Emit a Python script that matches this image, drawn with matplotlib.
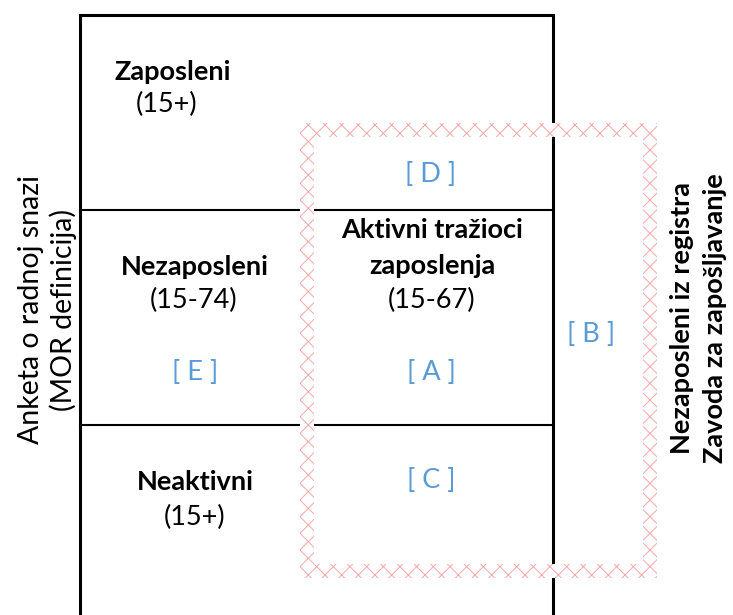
import matplotlib.pyplot as plt
from matplotlib.path import Path
from matplotlib.patches import PathPatch

plt.rcParams['font.family'] = ['Lato', 'DejaVu Sans']

# layout of the diagram (pixel space, y grows downward)
box_x = [80, 553]
row_y = [15, 210, 425, 615]
reg_outer = [300, 123, 657, 578]   # x0, y0, x1, y1 of the register frame
reg_width = 14

# cell texts
cell_titles = [("Zaposleni", 173, 72), ("Nezaposleni", 195, 267),
               ("Neaktivni", 195, 482), ("Aktivni tražioci", 432, 230),
               ("zaposlenja", 432, 266)]
cell_ages = [("(15+)", 167, 104), ("(15-74)", 194, 300),
             ("(15+)", 195, 517), ("(15-67)", 432, 300)]
group_tags = [("[ D ]", 431, 175), ("[ A ]", 431, 372), ("[ E ]", 195, 372),
              ("[ B ]", 591, 334), ("[ C ]", 431, 480)]
left_title = ["Anketa o radnoj snazi", "(MOR definicija)"]
right_title = ["Nezaposleni iz registra", "Zavoda za zapošljavanje"]

fig = plt.figure(figsize=(7.33, 6.15), dpi=100)
ax = fig.add_axes([0, 0, 1, 1])
ax.set_xlim(0, 733)
ax.set_ylim(615, 0)
ax.axis('off')

# outer box (open at bottom)
ax.plot([box_x[0], box_x[0], box_x[1], box_x[1]],
        [row_y[3], row_y[0], row_y[0], row_y[3]], color='black', lw=2.2,
        solid_joinstyle='miter', zorder=1)
for y in row_y[1:3]:
    ax.plot(box_x, [y, y], color='black', lw=1.5, zorder=1)

# register frame: white band with light red hatching
x0, y0, x1, y1 = reg_outer
w = reg_width
verts = [(x0, y0), (x1, y0), (x1, y1), (x0, y1), (x0, y0),
         (x0 + w, y0 + w), (x0 + w, y1 - w), (x1 - w, y1 - w), (x1 - w, y0 + w), (x0 + w, y0 + w)]
codes = [Path.MOVETO, Path.LINETO, Path.LINETO, Path.LINETO, Path.CLOSEPOLY] * 2
plt.rcParams['hatch.linewidth'] = 0.7
frame = PathPatch(Path(verts, codes), facecolor='white', edgecolor='#f5a8a8',
                  lw=0, hatch='xx', zorder=2)
ax.add_patch(frame)

fs = 19.5
for label, x, y in cell_titles:
    ax.text(x, y, label, ha='center', va='center', fontsize=fs, fontweight='bold', zorder=3)
for label, x, y in cell_ages:
    ax.text(x, y, label, ha='center', va='center', fontsize=fs, zorder=3)
for label, x, y in group_tags:
    ax.text(x, y, label, ha='center', va='center', fontsize=fs, color='#5b9bd5', zorder=3)

ax.text(31, 310, left_title[0], rotation=90, ha='center', va='center', fontsize=20.5)
ax.text(63, 310, left_title[1], rotation=90, ha='center', va='center', fontsize=20.5)
ax.text(682, 318, right_title[0], rotation=90, ha='center', va='center', fontsize=19.5, fontweight='bold')
ax.text(715, 318, right_title[1], rotation=90, ha='center', va='center', fontsize=19.5, fontweight='bold')

fig.savefig('out.png', dpi=100)
